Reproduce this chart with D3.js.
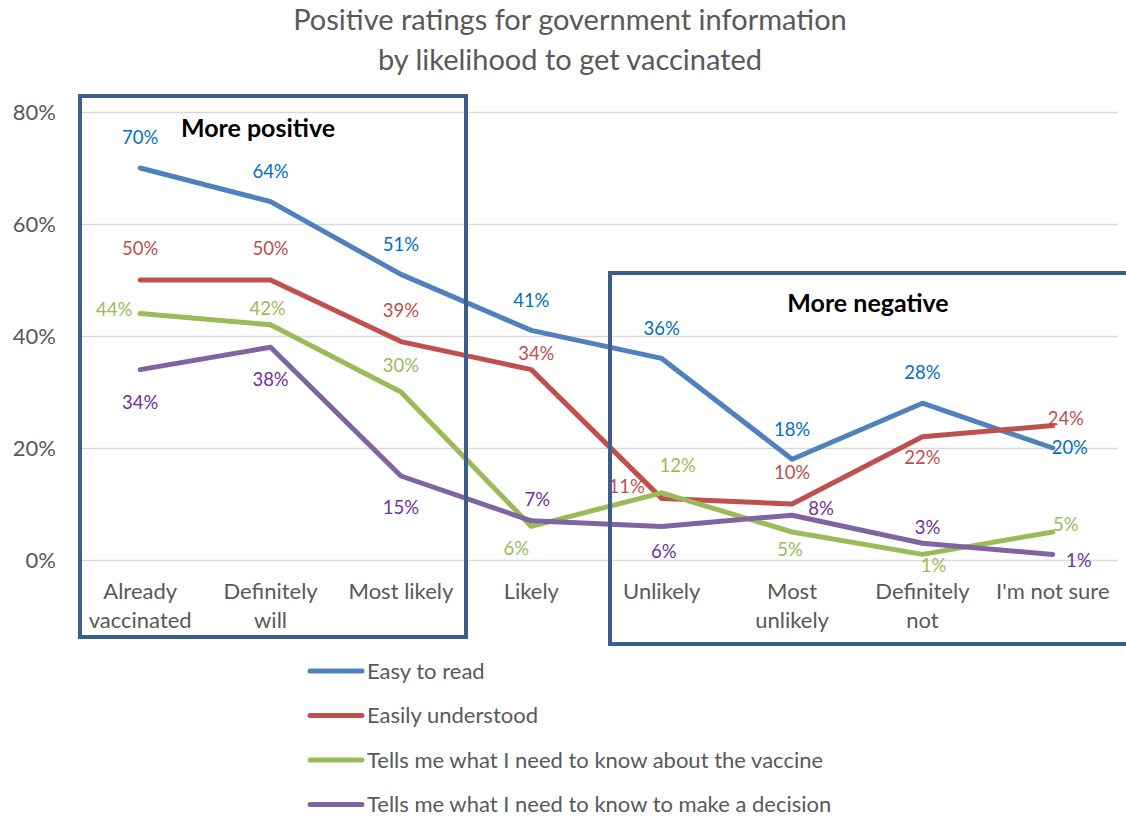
<!DOCTYPE html>
<html>
<head>
<meta charset="utf-8">
<script src="https://cdn.jsdelivr.net/npm/d3@7"></script>
<style>
  html, body { margin: 0; padding: 0; background: #fff; }
  svg { display: block; font-family: Lato, "Open Sans", sans-serif; }
</style>
</head>
<body>
<svg id="chart" width="1126" height="819"></svg>
<script>
// Likelihood to get vaccinated (x categories, two-line labels)
const categories = ["Already vaccinated", "Definitely will", "Most likely", "Likely",
                    "Unlikely", "Most unlikely", "Definitely not", "I'm not sure"];
const categoryLines = [["Already", "vaccinated"], ["Definitely", "will"], ["Most likely"], ["Likely"],
                       ["Unlikely"], ["Most", "unlikely"], ["Definitely", "not"], ["I'm not sure"]];

// Share of positive ratings (%) per series
const easyToRead        = [70, 64, 51, 41, 36, 18, 28, 20];
const easilyUnderstood  = [50, 50, 39, 34, 11, 10, 22, 24];
const aboutTheVaccine   = [44, 42, 30, 6, 12, 5, 1, 5];
const makeADecision     = [34, 38, 15, 7, 6, 8, 3, 1];

const seriesNames = ["Easy to read", "Easily understood",
                     "Tells me what I need to know about the vaccine",
                     "Tells me what I need to know to make a decision"];

const yTicks = [0, 20, 40, 60, 80];

// ---- styling / layout ----
const lineColors  = ["#4f81bd", "#c0504d", "#9bbb59", "#8064a2"];
const labelColors = ["#0070c0", "#c0504d", "#9bbb59", "#7030a0"];
const textGray = "#595959";

// data-label offsets (dx, dy) relative to each point
const labelOffsets = [
  [[0,-30],[0,-30],[0,-30],[0,-30],[0,-30],[0,-30],[0,-31],[17,0]],
  [[0,-31],[0,-31],[0,-31],[5,-16],[-35,-12],[0,-31],[0,21],[13,-7]],
  [[-26,-4],[-3,-16],[0,-26],[-15,22],[16,-27],[-2,18],[11,11],[13,-7]],
  [[0,33],[0,32],[0,32],[6,-21],[2,25],[29,-7],[5,-16],[26,6]]
];

const svg = d3.select("#chart");

const x = d3.scalePoint().domain(categories).range([75, 1118]).padding(0.5);
const y = d3.scaleLinear().domain([0, 80]).range([560, 112]);

const plotLeft = 78, plotRight = 1118;

// title
svg.append("text")
  .attr("x", 570).attr("y", 30)
  .attr("text-anchor", "middle")
  .attr("fill", textGray).attr("font-size", 29)
  .text("Positive ratings for government information");
svg.append("text")
  .attr("x", 570).attr("y", 70)
  .attr("text-anchor", "middle")
  .attr("fill", textGray).attr("font-size", 29)
  .text("by likelihood to get vaccinated");

// gridlines + y axis labels
const yAxis = d3.axisLeft(y).tickValues(yTicks)
  .tickSize(-(plotRight - plotLeft))
  .tickPadding(22)
  .tickFormat(d => d + "%");
const gy = svg.append("g").attr("transform", `translate(${plotLeft},0)`).call(yAxis);
gy.select(".domain").remove();
gy.selectAll(".tick line").attr("stroke", "#d9d9d9").attr("stroke-width", 1.5);
gy.selectAll(".tick text").attr("fill", textGray).attr("font-size", 22)
  .attr("font-family", "Lato, sans-serif");

// x category labels
const xl = svg.append("g");
categories.forEach((c, i) => {
  const t = xl.append("text")
    .attr("x", x(c)).attr("y", 599)
    .attr("text-anchor", "middle")
    .attr("fill", textGray).attr("font-size", 22);
  categoryLines[i].forEach((ln, j) => {
    t.append("tspan").attr("x", x(c)).attr("dy", j === 0 ? 0 : 29).text(ln);
  });
});

// lines
const series = [easyToRead, easilyUnderstood, aboutTheVaccine, makeADecision];

const line = d3.line()
  .x((d, i) => x(categories[i]))
  .y(d => y(d));

series.forEach((s, k) => {
  svg.append("path")
    .datum(s)
    .attr("d", line)
    .attr("fill", "none")
    .attr("stroke", lineColors[k])
    .attr("stroke-width", 5)
    .attr("stroke-linejoin", "round")
    .attr("stroke-linecap", "round");
});

// data labels
series.forEach((s, k) => {
  svg.append("g").selectAll("text")
    .data(s)
    .join("text")
    .attr("x", (d, i) => x(categories[i]) + labelOffsets[k][i][0])
    .attr("y", (d, i) => y(d) + labelOffsets[k][i][1])
    .attr("dy", "0.35em")
    .attr("text-anchor", "middle")
    .attr("fill", labelColors[k])
    .attr("font-size", 18.5)
    .text(d => d + "%");
});

// highlight boxes
const boxColor = "#3b5e8c";
svg.append("rect")
  .attr("x", 80).attr("y", 96).attr("width", 386).attr("height", 541)
  .attr("fill", "none").attr("stroke", boxColor).attr("stroke-width", 4);
svg.append("text")
  .attr("x", 258).attr("y", 137).attr("text-anchor", "middle")
  .attr("font-weight", "bold").attr("font-size", 25).attr("fill", "#000")
  .text("More positive");

svg.append("rect")
  .attr("x", 610).attr("y", 273).attr("width", 530).attr("height", 371)
  .attr("fill", "none").attr("stroke", boxColor).attr("stroke-width", 4);
svg.append("text")
  .attr("x", 868).attr("y", 312).attr("text-anchor", "middle")
  .attr("font-weight", "bold").attr("font-size", 25).attr("fill", "#000")
  .text("More negative");

// legend
const legend = svg.append("g");
seriesNames.forEach((n, k) => {
  const ly = 671 + k * 44.5;
  legend.append("line")
    .attr("x1", 310).attr("x2", 362).attr("y1", ly).attr("y2", ly)
    .attr("stroke", lineColors[k]).attr("stroke-width", 5)
    .attr("stroke-linecap", "round");
  legend.append("text")
    .attr("x", 367).attr("y", ly).attr("dy", "0.35em")
    .attr("fill", textGray).attr("font-size", 22)
    .text(n);
});
</script>
</body>
</html>
